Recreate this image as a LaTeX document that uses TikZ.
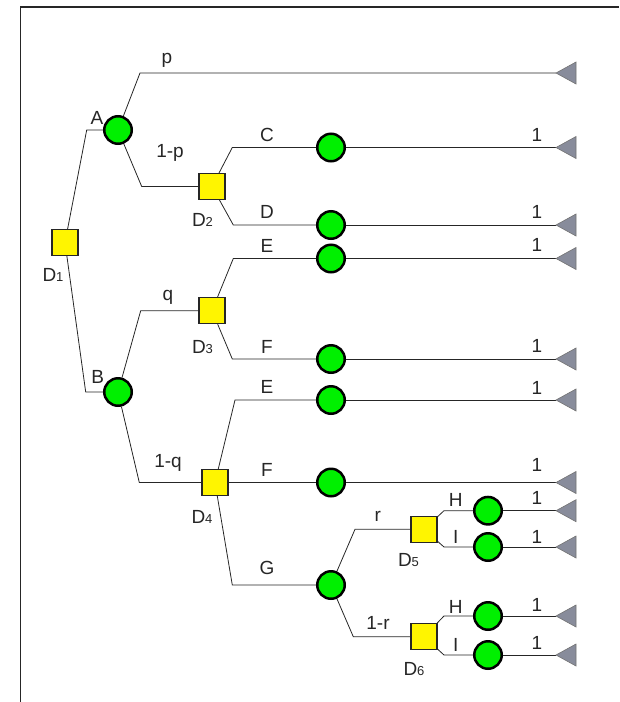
\documentclass[tikz,border=0pt]{standalone}
\usepackage{fontspec}
\setmainfont{Liberation Sans}
\definecolor{termgray}{RGB}{136,140,155}
\definecolor{nodegreen}{RGB}{0,240,0}
\definecolor{nodeyellow}{RGB}{255,245,0}
\newcommand{\Dlab}[1]{D{\fontsize{13}{15}\selectfont #1}}
\begin{document}
\begin{tikzpicture}[x=1pt,y=-1pt,
  chance/.style={circle,draw=black,line width=2.5pt,fill=nodegreen,minimum size=27.5pt,inner sep=0pt},
  decision/.style={rectangle,draw=black!85,line width=1.1pt,fill=nodeyellow,minimum size=26pt,inner sep=0pt},
  branch/.style={draw=black!85,line width=0.8pt},
  lbl/.style={font=\fontsize{19}{22}\selectfont,inner sep=0pt,text=black!85},
  term/.style={fill=termgray,draw=black!55,line width=0.6pt,line join=miter}]
\useasboundingbox (0,0) rectangle (619,702);
\draw[line width=1.8pt,black!85] (20.5,702) -- (20.5,7) -- (619,7);

% nodes
\node[decision] (D1) at (65,242.5) {};
\node[chance] (A) at (118,130) {};
\node[chance] (B) at (118,392) {};
\node[decision] (D2) at (212,186.5) {};
\node[decision] (D3) at (212,310.7) {};
\node[decision] (D4) at (215,482.5) {};
\node[chance] (cC) at (331,147.5) {};
\node[chance] (cD) at (331,225) {};
\node[chance] (cE1) at (331,258.5) {};
\node[chance] (cF1) at (331,359) {};
\node[chance] (cE2) at (331,400) {};
\node[chance] (cF2) at (331,482.5) {};
\node[chance] (cG) at (331,585) {};
\node[decision] (D5) at (424,529.3) {};
\node[decision] (D6) at (424,636.7) {};
\node[chance] (cH1) at (488,510.7) {};
\node[chance] (cI1) at (488,547) {};
\node[chance] (cH2) at (488,616) {};
\node[chance] (cI2) at (488,655) {};

% corner points
\coordinate (kA) at (86.7,130);
\coordinate (kB) at (85.7,392);
\coordinate (kp) at (140,73);
\coordinate (k1p) at (141.7,186.5);
\coordinate (kq) at (140.7,310.7);
\coordinate (k1q) at (139.3,482.5);
\coordinate (kC) at (232.3,147.5);
\coordinate (kD) at (233.3,225);
\coordinate (kE1) at (233.3,258.5);
\coordinate (kF1) at (232.3,359);
\coordinate (kE2) at (235,400);
\coordinate (kG) at (232.3,585);
\coordinate (kr) at (355,529.3);
\coordinate (k1r) at (353.3,636.7);
\coordinate (kH1) at (444,510.7);
\coordinate (kI1) at (444,547);
\coordinate (kH2) at (444,616);
\coordinate (kI2) at (444,655);

% terminals
\coordinate (tp) at (556,73);
\coordinate (tC) at (556,147.5);
\coordinate (tD) at (556,225);
\coordinate (tE1) at (556,258.5);
\coordinate (tF1) at (556,359);
\coordinate (tE2) at (556,400);
\coordinate (tF2) at (556,482.5);
\coordinate (tH1) at (556,510.7);
\coordinate (tI1) at (556,547);
\coordinate (tH2) at (556,616);
\coordinate (tI2) at (556,655);

% connectors
\draw[branch] (D1) -- (kA) -- (A);
\draw[branch] (D1) -- (kB) -- (B);
\draw[branch] (A) -- (kp) -- (tp);
\draw[branch] (A) -- (k1p) -- (D2);
\draw[branch] (B) -- (kq) -- (D3);
\draw[branch] (B) -- (k1q) -- (D4);
\draw[branch] (D2) -- (kC) -- (cC);
\draw[branch] (D2) -- (kD) -- (cD);
\draw[branch] (D3) -- (kE1) -- (cE1);
\draw[branch] (D3) -- (kF1) -- (cF1);
\draw[branch] (D4) -- (kE2) -- (cE2);
\draw[branch] (D4) -- (cF2);
\draw[branch] (D4) -- (kG) -- (cG);
\draw[branch] (cG) -- (kr) -- (D5);
\draw[branch] (cG) -- (k1r) -- (D6);
\draw[branch] (D5) -- (kH1) -- (cH1);
\draw[branch] (D5) -- (kI1) -- (cI1);
\draw[branch] (D6) -- (kH2) -- (cH2);
\draw[branch] (D6) -- (kI2) -- (cI2);
\draw[branch] (cC) -- (tC);
\draw[branch] (cD) -- (tD);
\draw[branch] (cE1) -- (tE1);
\draw[branch] (cF1) -- (tF1);
\draw[branch] (cE2) -- (tE2);
\draw[branch] (cF2) -- (tF2);
\draw[branch] (cH1) -- (tH1);
\draw[branch] (cI1) -- (tI1);
\draw[branch] (cH2) -- (tH2);
\draw[branch] (cI2) -- (tI2);

% terminal triangles
\foreach \t in {tp,tC,tD,tE1,tF1,tE2,tF2,tH1,tI1,tH2,tI2}{
  \path[term] (\t) -- ++(20,-11) -- ++(0,22) -- cycle;
}

% labels
\node[lbl] (lp) at (167,60) {p};
\node[lbl] (lA) at (97,118) {A};
\node[lbl] (l1p) at (170,153) {1-p};
\node[lbl] (lD1) at (53,275) {\Dlab{1}};
\node[lbl] (lD2) at (202.5,220) {\Dlab{2}};
\node[lbl] (lC) at (267,135) {C};
\node[lbl] (lD) at (267,212) {D};
\node[lbl] (lE1) at (267,246) {E};
\node[lbl] (lq) at (168,297) {q};
\node[lbl] (lD3) at (202.5,346.7) {\Dlab{3}};
\node[lbl] (lF1) at (267,347) {F};
\node[lbl] (lB) at (97.7,377) {B};
\node[lbl] (lE2) at (267,387) {E};
\node[lbl] (l1q) at (168,463) {1-q};
\node[lbl] (lF2) at (267,470) {F};
\node[lbl] (lD4) at (202,517) {\Dlab{4}};
\node[lbl] (lr) at (377.7,516) {r};
\node[lbl] (lH1) at (455.7,500) {H};
\node[lbl] (lI1) at (455.7,537) {I};
\node[lbl] (lD5) at (408.5,560) {\Dlab{5}};
\node[lbl] (lG) at (267,568) {G};
\node[lbl] (l1r) at (378,623) {1-r};
\node[lbl] (lH2) at (455.7,607) {H};
\node[lbl] (lI2) at (455.7,645) {I};
\node[lbl] (lD6) at (414,669) {\Dlab{6}};
\node[lbl] (o1) at (537,135) {1};
\node[lbl] (o2) at (537,212) {1};
\node[lbl] (o3) at (537,245) {1};
\node[lbl] (o4) at (537,346) {1};
\node[lbl] (o5) at (537,388) {1};
\node[lbl] (o6) at (537,465) {1};
\node[lbl] (o7) at (537,498) {1};
\node[lbl] (o8) at (537,537) {1};
\node[lbl] (o9) at (537,605) {1};
\node[lbl] (o10) at (537,643) {1};
\end{tikzpicture}
\end{document}
